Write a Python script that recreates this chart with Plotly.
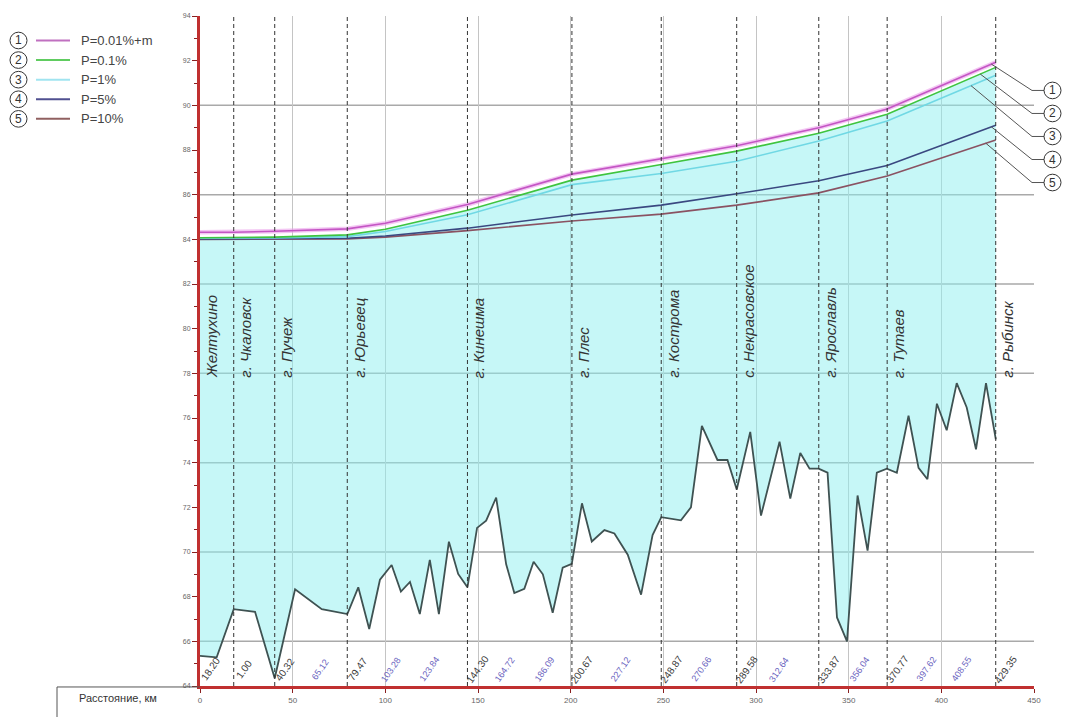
import numpy as np
import plotly.graph_objects as go

# ---------------- data ----------------
PROFILE_KM = [0, 9, 18.2, 29.7, 40.3, 51.3, 65.7, 79.5, 85.4, 91.3, 97.1, 103.4, 108.4, 113.3,
              118.6, 124.0, 128.9, 134.3, 139.3, 144.3, 149.5, 154.4, 159.8, 165.2, 169.6, 175.0,
              180.0, 185.0, 190.3, 195.7, 200.6, 206.1, 211.4, 218.2, 223.6, 230.8, 238.0, 244.2,
              248.9, 254.1, 259.5, 264.9, 270.8, 279.2, 284.6, 289.6, 296.9, 302.7, 312.7, 318.5,
              323.9, 328.9, 333.8, 338.6, 343.7, 349.1, 354.8, 360.2, 365.2, 370.6, 376.0, 382.3,
              387.7, 392.5, 397.6, 402.9, 408.3, 413.7, 418.7, 424.1, 429.4]
PROFILE_Z = [65.35, 65.28, 67.44, 67.32, 64.35, 68.33, 67.44, 67.22, 68.42, 66.55, 68.76, 69.42,
             68.23, 68.66, 67.22, 69.65, 67.22, 70.46, 69.02, 68.42, 71.08, 71.4, 72.44, 69.45,
             68.16, 68.35, 69.56, 69.0, 67.28, 69.3, 69.47, 72.18, 70.47, 70.98, 70.83, 69.88,
             68.09, 70.76, 71.56, 71.49, 71.42, 72.0, 75.65, 74.12, 74.12, 72.8, 75.38, 71.63,
             74.94, 72.39, 74.43, 73.73, 73.73, 73.55, 67.07, 66.0, 72.53, 70.06, 73.55, 73.73,
             73.55, 76.1, 73.77, 73.26, 76.64, 75.45, 77.56, 76.47, 74.6, 77.56, 75.04]

WL_KM = [0, 18.2, 40.32, 79.47, 100, 144.30, 200.67, 248.87, 289.58, 333.87, 370.77, 429.35]
P001M = [84.32, 84.32, 84.36, 84.47, 84.72, 85.56, 86.92, 87.6, 88.19, 89.0, 89.84, 91.93]
P01 = [84.07, 84.07, 84.1, 84.2, 84.45, 85.3, 86.65, 87.35, 87.95, 88.75, 89.6, 91.7]
P1 = [84.05, 84.05, 84.06, 84.12, 84.35, 85.1, 86.45, 86.95, 87.5, 88.4, 89.3, 91.35]
P5 = [84.02, 84.02, 84.03, 84.05, 84.15, 84.5, 85.09, 85.53, 86.04, 86.62, 87.31, 89.11]
P10 = [84.0, 84.0, 84.0, 84.02, 84.1, 84.39, 84.82, 85.13, 85.53, 86.08, 86.84, 88.45]

SERIES_NAMES = ["P=0.01%+m", "P=0.1%", "P=1%", "P=5%", "P=10%"]
SERIES_VALUES = [P001M, P01, P1, P5, P10]
SERIES_COLORS = ["#c455c4", "#3fc43f", "#70d8e4", "#3a4880", "#8a5262"]
LEGEND_COLORS = ["#c070c0", "#60cc60", "#a0e4f0", "#505090", "#906060"]
CALLOUT_KM = [427, 421, 416, 427, 424]

STATION_KM = [0, 18.2, 40.32, 79.47, 144.30, 200.67, 248.87, 289.58, 333.87, 370.77, 429.35]
STATION_NAMES = ["Желтухино", "г. Чкаловск", "г. Пучеж", "г. Юрьевец", "г. Кинешма", "г. Плес",
                 "г. Кострома", "с. Некрасовское", "г. Ярославль", "г. Тутаев", "г. Рыбинск"]

KM_LABEL_POS = [0, 18.2, 40.32, 79.47, 144.30, 200.67, 248.87, 289.58, 333.87, 370.77, 429.35]
KM_LABEL_TXT = ["18.20", "1.00", "40.32", "79.47", "144.30", "200.67", "248.87", "289.58",
                "333.87", "370.77", "429.35"]
MID_LABEL_POS = [65.12, 103.28, 123.84, 164.72, 186.09, 227.12, 270.66, 312.64, 356.04, 392.0, 411.0]
MID_LABEL_TXT = ["65.12", "103.28", "123.84", "164.72", "186.09", "227.12", "270.66", "312.64",
                 "356.04", "397.62", "408.55"]

GRID_Y = [66, 70, 74, 78, 82, 86, 90]
X_RANGE = [0, 450]
Y_RANGE = [64, 94]

# ---------------- layout geometry ----------------
W, H = 1065, 717
ML, MR, MT, MB = 200, 31, 13, 20
PW, PH = W - ML - MR, H - MT - MB


def pxx(xp):
    return (xp - ML) / PW


def pxy(yp):
    return (H - MB - yp) / PH


def dx(v):
    return (v - X_RANGE[0]) / (X_RANGE[1] - X_RANGE[0])


def dy(v):
    return (v - Y_RANGE[0]) / (Y_RANGE[1] - Y_RANGE[0])


FONT = "Liberation Sans, Arial, sans-serif"

fig = go.Figure()

# water area fill (between P=0.1% surface and river bed)
fig.add_trace(go.Scatter(
    x=WL_KM + PROFILE_KM[::-1], y=P01 + PROFILE_Z[::-1],
    fill="toself", fillcolor="rgba(141,239,239,0.5)", mode="lines",
    line=dict(width=0), hoverinfo="skip", showlegend=False))

# river bed profile
fig.add_trace(go.Scatter(x=PROFILE_KM, y=PROFILE_Z, mode="lines",
                         line=dict(color="#3f5252", width=1.8), showlegend=False))

# water surface lines (drawn bottom to top)
fig.add_trace(go.Scatter(x=WL_KM, y=P001M, mode="lines",
                         line=dict(color="rgba(235,160,235,0.6)", width=4.5),
                         showlegend=False, hoverinfo="skip"))
for name, vals, col in list(zip(SERIES_NAMES, SERIES_VALUES, SERIES_COLORS))[::-1]:
    fig.add_trace(go.Scatter(x=WL_KM, y=vals, mode="lines", name=name,
                             line=dict(color=col, width=1.6), showlegend=False))

shapes = []
annotations = []

# horizontal grid
for g in GRID_Y:
    shapes.append(dict(type="line", xref="paper", yref="y", x0=0, x1=1, y0=g, y1=g,
                       line=dict(color="#a9a9a9", width=1.5), layer="below"))

# station dashed lines
for km in STATION_KM[1:]:
    shapes.append(dict(type="line", xref="x", yref="paper", x0=km, x1=km, y0=0, y1=1,
                       line=dict(color="#333333", width=1, dash="4px,3px"), layer="above"))

# station names
for km, name in zip(STATION_KM, STATION_NAMES):
    annotations.append(dict(x=km, y=77.7, xref="x", yref="y", text="<i>" + name + "</i>",
                            textangle=-90, showarrow=False, xanchor="left", yanchor="bottom",
                            xshift=1, font=dict(family=FONT, size=15, color="#333333")))

# km labels near bottom
for km, t in zip(KM_LABEL_POS, KM_LABEL_TXT):
    annotations.append(dict(x=km, y=64.75, xref="x", yref="y", text=t, textangle=-55,
                            showarrow=False, xanchor="center", yanchor="middle", xshift=10,
                            font=dict(family=FONT, size=10, color="#3a3a3a")))
for km, t in zip(MID_LABEL_POS, MID_LABEL_TXT):
    annotations.append(dict(x=km, y=64.75, xref="x", yref="y", text=t, textangle=-55,
                            showarrow=False, xanchor="center", yanchor="middle",
                            font=dict(family=FONT, size=9, color="#6a64c0")))

# table row at bottom
shapes.append(dict(type="line", xref="paper", yref="paper", x0=pxx(57), x1=0,
                   y0=pxy(698), y1=pxy(698), line=dict(color="#555555", width=1)))
shapes.append(dict(type="line", xref="paper", yref="paper", x0=pxx(57), x1=pxx(57),
                   y0=pxy(698), y1=pxy(730), line=dict(color="#555555", width=1)))
annotations.append(dict(x=pxx(118), y=pxy(709), xref="paper", yref="paper",
                        text="Расстояние, км", showarrow=False, xanchor="center",
                        yanchor="middle", font=dict(family=FONT, size=11, color="#333333")))

# left legend
LEG_Y = [38, 58, 78, 98, 118]
for i, (name, col) in enumerate(zip(SERIES_NAMES, LEGEND_COLORS)):
    yy = LEG_Y[i]
    shapes.append(dict(type="circle", xref="paper", yref="paper",
                       x0=pxx(10), x1=pxx(27), y0=pxy(yy + 8.5), y1=pxy(yy - 8.5),
                       line=dict(color="#333333", width=1)))
    annotations.append(dict(x=pxx(18.5), y=pxy(yy), xref="paper", yref="paper",
                            text=str(i + 1), showarrow=False, xanchor="center",
                            yanchor="middle", font=dict(family=FONT, size=12, color="#333333")))
    shapes.append(dict(type="line", xref="paper", yref="paper", x0=pxx(36), x1=pxx(70),
                       y0=pxy(yy), y1=pxy(yy), line=dict(color=col, width=2)))
    annotations.append(dict(x=pxx(79), y=pxy(yy), xref="paper", yref="paper", text=name,
                            showarrow=False, xanchor="left", yanchor="middle",
                            font=dict(family=FONT, size=13, color="#444444")))

# right callouts
CALL_Y = [89, 112.5, 136, 159.5, 183]
for i, (vals, ckm) in enumerate(zip(SERIES_VALUES, CALLOUT_KM)):
    sx = dx(ckm)
    sy = dy(float(np.interp(ckm, WL_KM, vals)))
    cy = pxy(CALL_Y[i])
    shapes.append(dict(type="path", xref="paper", yref="paper",
                       path=f"M {sx},{sy} L {pxx(1032)},{cy} L {pxx(1044)},{cy}",
                       line=dict(color="#555555", width=1)))
    shapes.append(dict(type="circle", xref="paper", yref="paper",
                       x0=pxx(1044), x1=pxx(1061), y0=pxy(CALL_Y[i] + 8.5),
                       y1=pxy(CALL_Y[i] - 8.5), line=dict(color="#333333", width=1),
                       fillcolor="white"))
    annotations.append(dict(x=pxx(1052.5), y=cy, xref="paper", yref="paper", text=str(i + 1),
                            showarrow=False, xanchor="center", yanchor="middle",
                            font=dict(family=FONT, size=12, color="#333333")))

fig.update_layout(
    width=W, height=H, margin=dict(l=ML, r=MR, t=MT, b=MB),
    paper_bgcolor="white", plot_bgcolor="white",
    shapes=shapes, annotations=annotations, showlegend=False,
    xaxis=dict(range=X_RANGE, dtick=50, tick0=0, showgrid=True, gridcolor="#c4c4c4",
               gridwidth=1, zeroline=False, showline=True, linecolor="#c03030", linewidth=3,
               ticks="outside", ticklen=4, tickcolor="#8a2020",
               tickfont=dict(family=FONT, size=8, color="#666666")),
    yaxis=dict(range=Y_RANGE, dtick=2, tick0=64, showgrid=False, zeroline=False,
               showline=True, linecolor="#c03030", linewidth=3, ticks="outside", ticklen=5,
               tickcolor="#8a2020", minor=dict(dtick=1, ticks="outside", ticklen=3,
                                               tickcolor="#8a2020"),
               tickfont=dict(family=FONT, size=7, color="#666666")),
)

fig.write_html("out.html", config={"displayModeBar": False},
               post_script="document.body.style.margin='0px';document.body.style.overflow='hidden';")
